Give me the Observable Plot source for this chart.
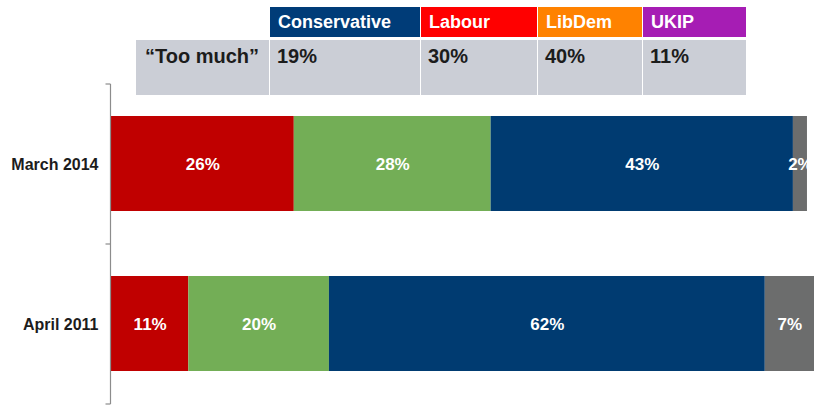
<!DOCTYPE html>
<html>
<head>
<meta charset="utf-8">
<script src="https://cdn.jsdelivr.net/npm/d3@7"></script>
<script src="https://cdn.jsdelivr.net/npm/@observablehq/plot@0.6"></script>
<style>
  html, body { margin: 0; padding: 0; background: #fff; }
  #wrap { position: relative; width: 814px; height: 408px; overflow: hidden; font-family: "Liberation Sans", Arial, sans-serif; }
  #chart { position: absolute; left: 0; top: 0; }
  #table { position: absolute; left: 136px; top: 7px; display: grid; column-gap: 1px; row-gap: 3px; }
  #table div { box-sizing: border-box; font-weight: bold; white-space: nowrap; }
  .hdr { height: 30px; line-height: 30px; padding-left: 8px; color: #fff; font-size: 18px; }
  .blank { height: 30px; }
  .val { height: 55px; background: #cbced6; color: #1c1c1c; padding-left: 7px; padding-top: 5px; line-height: 22px; font-size: 20px; }
  .rowlab { padding-left: 9px !important; }
</style>
</head>
<body>
<div id="wrap">
  <div id="chart"></div>
  <div id="table"></div>
</div>
<script>
// ---- data ----
const periods = ["March 2014", "April 2011"];
const responses = ["Too much", "About right", "Too little", "Don't know"];
const march2014 = [26, 28, 43, 2];
const april2011 = [11, 20, 62, 7];
const responseColors = ["#c00000", "#73ae56", "#003b71", "#6c6d6d"];

const parties = ["Conservative", "Labour", "LibDem", "UKIP"];
const partyColors = ["#003c78", "#ff0000", "#ff8200", "#a61db4"];
const tooMuchLabel = "\u201cToo much\u201d";
const tooMuchByParty = [19, 30, 40, 11];

// ---- table (legend-like header) ----
const colWidths = [133, 150, 116, 104, 103];
const table = document.getElementById("table");
table.style.gridTemplateColumns = colWidths.map(w => w + "px").join(" ");
const blank = document.createElement("div");
blank.className = "blank";
table.appendChild(blank);
parties.forEach((p, i) => {
  const d = document.createElement("div");
  d.className = "hdr";
  d.style.background = partyColors[i];
  d.textContent = p;
  table.appendChild(d);
});
const lab = document.createElement("div");
lab.className = "val rowlab";
lab.textContent = tooMuchLabel;
table.appendChild(lab);
tooMuchByParty.forEach(v => {
  const d = document.createElement("div");
  d.className = "val";
  d.textContent = v + "%";
  table.appendChild(d);
});

// ---- bars ----
const rows = [];
[march2014, april2011].forEach((vals, pi) => {
  vals.forEach((v, ri) => rows.push({period: periods[pi], response: responses[ri], value: v}));
});

// axis line with boundary ticks (Excel-style category axis)
function categoryAxis(index, scales, values, dimensions) {
  const y = scales.y;
  const x0 = dimensions.marginLeft - 0.5;
  const g = d3.create("svg:g").attr("stroke", "#8c8c8c").attr("stroke-width", 1.2);
  const bw = y.bandwidth();
  const bounds = [y(periods[0])].concat(periods.map(p => y(p) + bw));
  g.append("line").attr("x1", x0).attr("x2", x0)
    .attr("y1", bounds[0]).attr("y2", bounds[bounds.length - 1]);
  bounds.forEach(b => g.append("line").attr("x1", x0 - 5).attr("x2", x0).attr("y1", b).attr("y2", b));
  return g.node();
}

const plot = Plot.plot({
  width: 814,
  height: 408,
  marginLeft: 111,
  marginRight: 0,
  marginTop: 84,
  marginBottom: 4,
  style: { fontFamily: "Liberation Sans, Arial, sans-serif", background: "transparent" },
  x: { domain: [0, 100], axis: null },
  y: { domain: periods, padding: 0, axis: null },
  color: { domain: responses, range: responseColors },
  marks: [
    Plot.barX(rows, Plot.stackX({
      x: "value", y: "period", fill: "response", order: responses,
      insetTop: 32, insetBottom: 33
    })),
    Plot.text(rows, Plot.stackX({
      x: "value", y: "period", z: "response", order: responses,
      text: d => d.value + "%", fill: "white", fontSize: 17, fontWeight: "bold"
    })),
    Plot.axisY({
      label: null, tickSize: 0, tickPadding: 13, fontSize: 16, fontWeight: "bold", color: "#1c1c1c"
    }),
    categoryAxis
  ]
});
document.getElementById("chart").appendChild(plot);
</script>
</body>
</html>
